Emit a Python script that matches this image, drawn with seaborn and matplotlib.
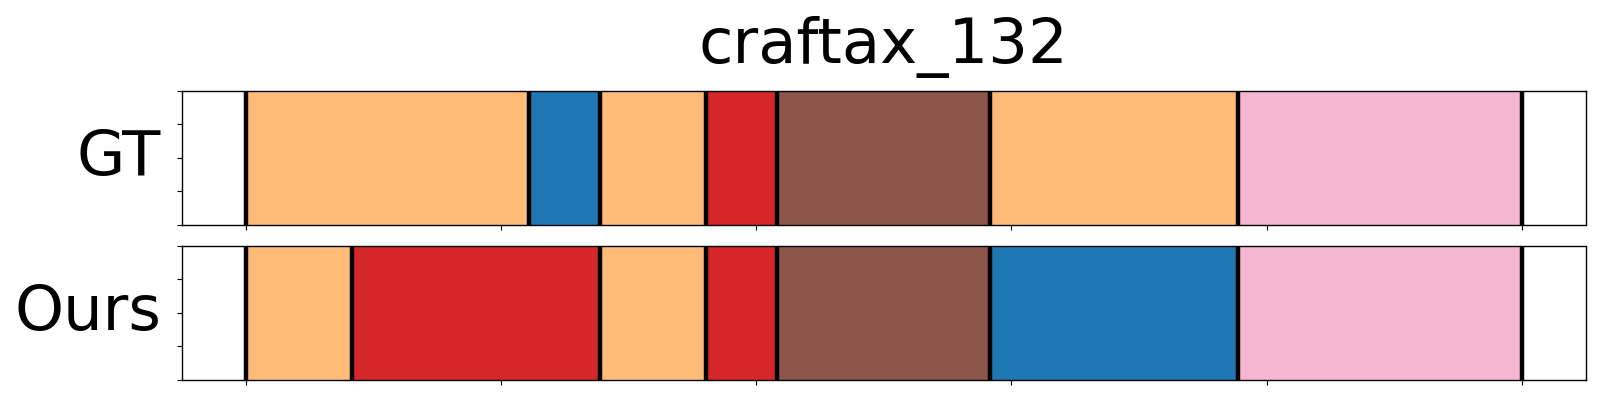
import matplotlib
matplotlib.use("Agg")
import matplotlib.pyplot as plt
import seaborn as sns
import pandas as pd

# ---- data ----
title = "craftax_132"
n_frames = 36
row_names = ["GT", "Ours"]
gt_bounds = [0, 8, 10, 13, 15, 21, 28, 36]
gt_classes = [3, 0, 3, 6, 10, 3, 13]
ours_bounds = [0, 3, 10, 13, 15, 21, 28, 36]
ours_classes = [3, 6, 3, 6, 10, 0, 13]

sns.set_style("ticks", {"axes.edgecolor": "black", "xtick.color": "black",
                        "ytick.color": "black", "axes.linewidth": 1.0,
                        "text.color": "black", "axes.labelcolor": "black"})
plt.rcParams['font.family'] = ['DejaVu Sans']
palette = sns.color_palette("tab20", 20)

fig, axes = plt.subplots(2, 1, figsize=(16, 4), dpi=100)
fig.subplots_adjust(left=0.1136, right=0.991, top=0.7733, bottom=0.05, hspace=0.154)

rows = [(gt_bounds, gt_classes), (ours_bounds, ours_classes)]
for ax, name, (bounds, classes) in zip(axes, row_names, rows):
    df = pd.DataFrame({
        "start": [b / n_frames for b in bounds[:-1]],
        "end": [b / n_frames for b in bounds[1:]],
        "cls": classes,
    })
    df["width"] = df["end"] - df["start"]
    ax.barh(y=[0.5] * len(df), width=df["width"], left=df["start"], height=1.0,
            color=[palette[c] for c in df["cls"]], edgecolor="none")
    for b in bounds:
        ax.axvline(b / n_frames, color="black", linewidth=3.2, zorder=3)
    ax.set_xlim(-0.05, 1.05)
    ax.set_ylim(0, 1)
    ax.set_xticks([0, 0.2, 0.4, 0.6, 0.8, 1.0])
    ax.set_xticklabels([])
    ax.set_yticks([0, 0.25, 0.5, 0.75, 1.0])
    ax.set_yticklabels([])
    ax.tick_params(direction="out", length=3.5, width=0.8)
    for s in ax.spines.values():
        s.set_visible(True)
        s.set_linewidth(1.0)
    ax.set_ylabel(name, fontsize=45, rotation=0, ha="right", va="center",
                  labelpad=8, color="black")

axes[0].set_title(title, fontsize=45, pad=20, color="black")

fig.savefig("out.png", dpi=100)
